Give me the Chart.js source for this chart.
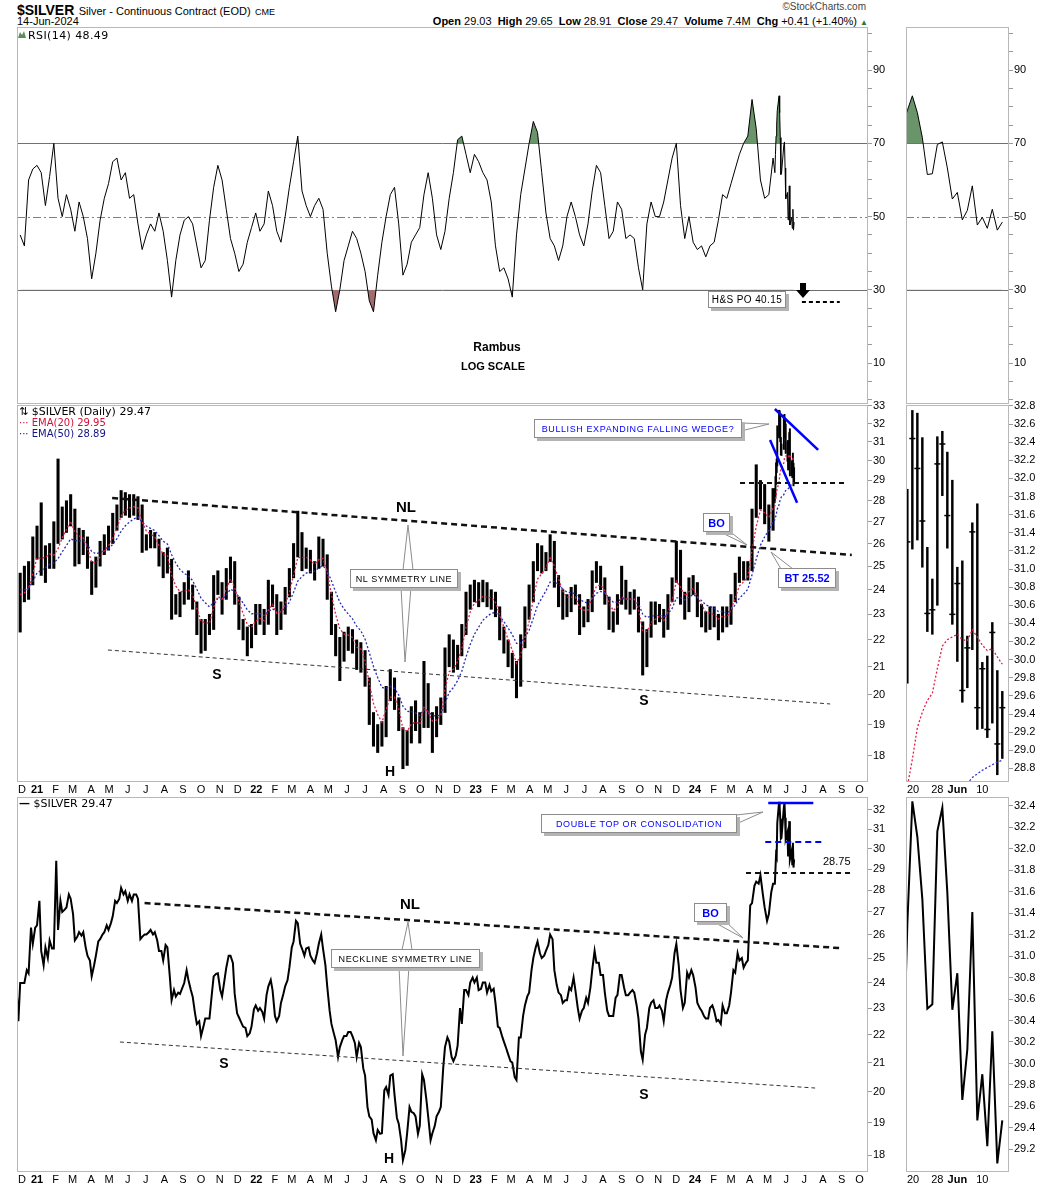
<!DOCTYPE html>
<html>
<head>
<meta charset="utf-8">
<title>$SILVER</title>
<script src="https://cdn.jsdelivr.net/npm/chart.js@4.4.1/dist/chart.umd.min.js"></script>
<style>
  body { margin: 0; background: #fff; }
  #page { position: relative; width: 1050px; height: 1188px; overflow: hidden; font-family: "Liberation Sans", Arial, sans-serif; color: #000; }
  canvas { position: absolute; }
  .t { position: absolute; white-space: nowrap; }
  .leg { position: absolute; white-space: nowrap; font: 10px "DejaVu Sans", sans-serif; }
  .box { position: absolute; background: #fff; border: 1px solid #8c8c8c; box-shadow: 3px 3px 0 #b4b4b4; box-sizing: border-box;
         display: flex; align-items: center; justify-content: center; white-space: nowrap; font: 9px "Liberation Sans", Arial, sans-serif; letter-spacing: 0.6px; }
  .blue { color: #0000ff; }
  .bo { font: bold 11px "Liberation Sans", Arial, sans-serif; letter-spacing: 0; }
  .big { position: absolute; font: bold 15px "Liberation Sans", Arial, sans-serif; transform: translate(-50%, -50%); }
  svg { position: absolute; left: 0; top: 0; }
</style>
</head>
<body>
<div id="page">
  <div class="t" style="left:17px;top:1px">
    <span style="font:bold 14px 'Liberation Sans',Arial">$SILVER</span>
    <span style="font:11px 'Liberation Sans',Arial">Silver - Continuous Contract (EOD)</span>
    <span style="font:9px 'Liberation Sans',Arial">CME</span>
  </div>
  <div class="t" style="left:17px;top:15px;font:11px 'Liberation Sans',Arial">14-Jun-2024</div>
  <div class="t" style="right:184px;top:1px;font:10px 'Liberation Sans',Arial;color:#444">&copy;StockCharts.com</div>
  <div class="t" style="right:182px;top:15px;font:11px 'Liberation Sans',Arial">
    <b>Open</b> 29.03 &nbsp;<b>High</b> 29.65 &nbsp;<b>Low</b> 28.91 &nbsp;<b>Close</b> 29.47 &nbsp;<b>Volume</b> 7.4M &nbsp;<b>Chg</b> +0.41 (+1.40%) <span style="color:#2d7a2d;font-size:8px">&#9650;</span>
  </div>

  <canvas id="rsi" width="895" height="393" style="left:10px;top:19px"></canvas>
  <canvas id="price" width="895" height="400" style="left:10px;top:397px"></canvas>
  <canvas id="line" width="895" height="399" style="left:10px;top:789px"></canvas>
  <canvas id="zrsi" width="147" height="393" style="left:903px;top:19px"></canvas>
  <canvas id="zprice" width="147" height="400" style="left:903px;top:397px"></canvas>
  <canvas id="zline" width="147" height="399" style="left:903px;top:789px"></canvas>

  <svg width="1050" height="1188">
    <g fill="#fff" stroke="#8c8c8c" stroke-width="1">
      <polygon points="741,423 769,424 741,431"/>
      <polygon points="716,530 728,530 747,545"/>
      <polygon points="781,569 793,569 771,552"/>
      <polygon points="403,570 413,570 408,525"/>
      <polygon points="401,587 411,587 405,662"/>
      <polygon points="736,815 763,812 736,824"/>
      <polygon points="712,921 725,921 743,938"/>
      <polygon points="402,950 412,950 408,922"/>
      <polygon points="399,966 409,966 403,1056"/>
    </g>
    <rect x="800" y="283" width="6" height="7" fill="#000"/>
    <polygon points="796,290 810,290 803,298" fill="#000"/>
    <polygon points="18,38 20,32 22,35 24,31 26,38" fill="#5d8f5d"/>
  </svg>

  <div class="leg" style="left:28px;top:29px;font-size:11px;letter-spacing:0.4px">RSI(14) 48.49</div>
  <div class="leg" style="left:19px;top:405px;font-size:11px">&#8645; $SILVER (Daily) 29.47</div>
  <div class="leg" style="left:19px;top:417px;color:#d0103a">&middot;&middot;&middot; EMA(20) 29.95</div>
  <div class="leg" style="left:19px;top:428px;color:#141482">&middot;&middot;&middot; EMA(50) 28.89</div>
  <div class="leg" style="left:19px;top:797px;font-size:11px"><b>&mdash;</b> $SILVER 29.47</div>

  <div class="box" style="left:708px;top:291px;width:78px;height:17px;font-size:10px;letter-spacing:0.4px">H&amp;S PO 40.15</div>
  <div class="t" style="left:497px;top:347px;transform:translate(-50%,-50%);font:bold 12px 'Liberation Sans',Arial">Rambus</div>
  <div class="t" style="left:493px;top:366px;transform:translate(-50%,-50%);font:bold 11px 'Liberation Sans',Arial">LOG SCALE</div>

  <div class="box blue" style="left:534px;top:419px;width:208px;height:19px">BULLISH EXPANDING FALLING WEDGE?</div>
  <div class="box blue bo" style="left:703px;top:513px;width:27px;height:19px">BO</div>
  <div class="box blue bo" style="left:778px;top:568px;width:58px;height:20px">BT 25.52</div>
  <div class="box" style="left:350px;top:569px;width:108px;height:19px">NL SYMMETRY LINE</div>
  <div class="big" style="left:406px;top:506px">NL</div>
  <div class="big" style="left:217px;top:674px;font-size:14px">S</div>
  <div class="big" style="left:390px;top:771px;font-size:14px">H</div>
  <div class="big" style="left:644px;top:700px;font-size:14px">S</div>

  <div class="box blue" style="left:541px;top:814px;width:196px;height:19px">DOUBLE TOP OR CONSOLIDATION</div>
  <div class="box blue bo" style="left:694px;top:903px;width:33px;height:19px">BO</div>
  <div class="box" style="left:331px;top:949px;width:149px;height:19px">NECKLINE SYMMETRY LINE</div>
  <div class="t" style="left:823px;top:855px;font:11px 'Liberation Sans',Arial">28.75</div>
  <div class="big" style="left:410px;top:903px">NL</div>
  <div class="big" style="left:224px;top:1063px;font-size:14px">S</div>
  <div class="big" style="left:389px;top:1158px;font-size:14px">H</div>
  <div class="big" style="left:644px;top:1094px;font-size:14px">S</div>
</div>

<script>
// weekly closes, Fridays from 2020-12-04 to 2024-05-10
const weekStart = '2020-12-04';
const weekClose = [
  23.98, 23.98, 24.37, 25.6, 26.4, 25.3, 25.45, 25.75, 25.4, 26.2,
  27.0, 27.2, 27.6, 25.75, 26.1, 26.1, 25.1, 24.25, 25.1, 25.8,
  26.1, 26.2, 26.8, 27.4, 28.1, 27.95, 27.8, 27.8, 27.6, 25.9,
  26.0, 26.2, 26.1, 25.3, 24.9, 25.45, 23.3, 23.45, 23.55, 23.98,
  24.1, 23.45, 22.4, 21.95, 22.6, 22.6, 24.25, 24.37, 23.45, 24.6,
  25.1, 23.55, 22.65, 22.3, 21.95, 22.3, 23.1, 23.0, 22.6, 23.85,
  23.7, 22.5, 23.2, 23.85, 24.6, 25.7, 26.5, 25.4, 25.4, 25.1,
  24.8, 25.6, 25.4, 23.85, 22.4, 21.8, 21.55, 21.95, 22.1, 21.95,
  21.2, 21.55, 20.55, 19.2, 18.67, 18.77, 18.67, 20.16, 20.55, 19.9,
  18.97, 17.85, 18.67, 19.35, 19.2, 18.9, 20.4, 19.2, 18.67, 19.2,
  19.5, 21.55, 21.75, 21.05, 21.6, 22.4, 23.7, 24.0, 24.0, 23.7,
  24.0, 23.6, 23.65, 23.2, 22.25, 21.75, 21.3, 21.0, 20.4, 21.9,
  23.1, 23.6, 25.0, 25.7, 25.0, 25.3, 26.0, 24.5, 23.6, 23.2,
  23.3, 23.7, 23.7, 22.6, 23.0, 23.2, 24.5, 24.8, 24.3, 23.6,
  22.7, 22.7, 23.5, 24.3, 23.5, 23.6, 23.6, 22.6, 21.1, 22.25,
  23.2, 23.0, 23.1, 22.5, 23.6, 24.2, 25.6, 23.7, 23.2, 24.2,
  24.3, 23.2, 22.9, 22.6, 23.0, 22.9, 22.55, 23.1, 22.8, 23.6,
  24.4, 24.9, 24.6, 24.9, 27.4, 28.4, 28.7, 27.2, 26.9, 28.3
];
// mid-week (Tuesday) closes, from 2020-12-08 to 2024-05-07
const midStart = '2020-12-08';
const midClose = [
  23.98, 24.5, 26.3, 26.3, 27.5, 24.7, 25.0, 25.4, 29.4, 27.5,
  27.1, 27.8, 26.9, 25.9, 25.95, 25.45, 24.9, 24.7, 25.7, 26.0,
  26.4, 26.5, 27.5, 27.6, 27.8, 27.5, 27.5, 27.8, 25.8, 26.0,
  26.1, 26.0, 25.75, 25.3, 25.55, 24.25, 23.7, 23.6, 23.8, 24.5,
  23.7, 22.8, 22.5, 22.3, 22.6, 23.55, 24.35, 23.7, 24.1, 25.1,
  24.8, 22.8, 22.45, 22.25, 22.05, 22.95, 22.9, 22.85, 23.5, 24.1,
  22.7, 22.7, 23.55, 24.1, 25.45, 26.6, 25.6, 25.1, 25.45, 24.9,
  25.2, 26.0, 24.7, 22.9, 22.05, 21.2, 21.8, 21.95, 22.1, 21.7,
  21.7, 20.8, 19.5, 19.1, 18.45, 18.65, 20.05, 19.9, 20.6, 19.15,
  18.45, 18.15, 19.5, 19.3, 18.65, 20.6, 19.75, 18.45, 18.9, 19.35,
  20.8, 21.9, 21.2, 21.25, 23.0, 23.7, 23.5, 24.2, 24.2, 23.75,
  24.0, 23.9, 23.75, 22.3, 21.95, 21.5, 21.05, 20.5, 21.9, 22.7,
  23.45, 24.5, 25.45, 25.2, 25.1, 25.55, 25.8, 23.9, 23.5, 23.3,
  23.8, 24.2, 23.0, 22.9, 23.4, 23.8, 25.3, 24.8, 24.3, 22.9,
  22.7, 23.4, 24.3, 23.8, 23.5, 23.7, 23.1, 21.4, 22.0, 23.0,
  23.3, 23.0, 22.9, 23.3, 23.9, 25.2, 24.7, 23.0, 24.4, 24.5,
  23.8, 23.0, 22.7, 22.6, 23.1, 22.5, 22.4, 22.8, 23.1, 24.5,
  25.2, 25.0, 24.8, 27.3, 28.2, 28.3, 27.8, 26.6, 27.9
];
const weekHigh = [
  24.7, 25.0, 25.2, 26.3, 26.8, 27.9, 25.9, 26.0, 27.0, 30.1,
  27.7, 28.0, 28.3, 27.6, 26.7, 26.6, 26.3, 25.2, 25.4, 26.1,
  26.4, 26.8, 27.4, 27.8, 28.5, 28.4, 28.3, 28.3, 28.2, 27.8,
  26.4, 26.6, 26.5, 26.2, 25.6, 25.8, 25.3, 23.8, 23.9, 24.3,
  24.8, 24.2, 23.5, 22.8, 22.8, 23.0, 24.6, 24.8, 24.3, 24.9,
  25.4, 25.2, 23.7, 22.8, 22.5, 22.6, 23.4, 23.4, 23.2, 24.4,
  24.2, 23.8, 23.5, 24.1, 24.9, 26.0, 27.5, 26.5, 25.8, 25.7,
  25.2, 26.3, 26.2, 25.5, 23.9, 22.6, 22.1, 22.3, 22.5, 22.4,
  22.0, 21.9, 21.6, 20.6, 19.4, 19.0, 19.1, 20.3, 20.9, 20.6,
  19.9, 18.9, 18.8, 19.6, 19.8, 19.4, 21.2, 20.4, 19.4, 19.6,
  19.9, 21.7, 22.2, 22.0, 21.8, 22.6, 23.9, 24.2, 24.4, 24.3,
  24.4, 24.3, 24.0, 23.9, 23.3, 22.5, 22.0, 21.5, 21.2, 22.2,
  23.3, 24.2, 25.2, 26.0, 25.9, 25.6, 26.4, 26.1, 24.6, 24.0,
  23.8, 24.1, 24.2, 23.8, 23.3, 23.6, 24.8, 25.2, 25.0, 24.5,
  23.7, 23.1, 23.8, 25.0, 24.4, 23.9, 24.0, 23.7, 22.7, 22.4,
  23.5, 23.5, 23.4, 23.2, 23.8, 24.5, 26.1, 25.7, 23.9, 24.5,
  24.6, 24.3, 23.4, 23.1, 23.3, 23.3, 23.0, 23.3, 23.3, 23.8,
  24.7, 25.4, 25.2, 25.2, 27.6, 29.8, 29.0, 28.8, 27.8, 28.6
];
const weekLow = [
  22.3, 23.5, 23.6, 24.2, 25.3, 24.6, 24.3, 24.9, 24.9, 26.0,
  26.2, 26.5, 26.8, 25.0, 25.1, 25.5, 24.9, 23.8, 24.1, 25.0,
  25.5, 25.7, 26.0, 26.6, 27.2, 27.3, 27.2, 27.3, 27.1, 25.6,
  25.7, 25.8, 25.8, 25.0, 24.5, 24.7, 22.8, 23.0, 22.9, 23.4,
  23.6, 23.2, 22.2, 21.5, 21.6, 22.2, 22.4, 23.8, 23.0, 23.6,
  24.3, 23.4, 22.4, 22.0, 21.4, 21.7, 22.2, 22.6, 22.2, 22.6,
  23.3, 22.2, 22.4, 23.0, 23.7, 24.5, 25.4, 24.8, 24.9, 24.7,
  24.4, 24.9, 25.0, 23.6, 22.2, 21.4, 20.5, 21.2, 21.6, 21.5,
  20.9, 20.8, 20.3, 19.0, 18.3, 18.1, 18.3, 18.6, 19.8, 19.5,
  18.8, 17.6, 17.7, 18.4, 18.8, 18.4, 18.9, 18.9, 18.1, 18.6,
  19.0, 19.4, 21.0, 20.8, 20.9, 21.4, 22.2, 23.2, 23.5, 23.3,
  23.5, 23.3, 23.2, 22.9, 22.0, 21.5, 21.0, 20.6, 19.9, 20.3,
  21.7, 22.8, 23.5, 24.8, 24.7, 24.8, 25.2, 24.1, 23.3, 22.8,
  22.9, 23.1, 23.4, 22.2, 22.5, 22.7, 23.1, 24.3, 24.0, 23.4,
  22.4, 22.3, 22.6, 23.4, 23.2, 23.0, 23.2, 22.3, 20.7, 21.0,
  22.1, 22.6, 22.7, 22.1, 22.4, 23.5, 24.3, 23.4, 22.8, 23.1,
  23.8, 22.9, 22.5, 22.3, 22.4, 22.5, 22.0, 22.3, 22.5, 22.6,
  23.5, 24.3, 24.4, 24.4, 24.8, 27.2, 27.6, 26.9, 26.1, 26.6
];
const weekRsi = [
  45, 42, 60, 63, 64, 62, 53, 61, 70, 55,
  50, 56, 52, 46, 54, 50, 44, 33, 40, 49,
  55, 59, 65, 66, 60, 62, 55, 56, 48, 41,
  45, 48, 46, 51, 46, 38, 28, 38, 45, 49,
  50, 48, 42, 36, 38, 49, 58, 64, 60, 52,
  44, 40, 35, 37, 43, 47, 51, 46, 48, 57,
  53, 46, 43, 50, 58, 65, 72, 57, 53, 50,
  53, 55, 52, 40, 31, 24, 30, 38, 42, 46,
  44, 40, 35, 27, 24, 34, 43, 50, 56, 58,
  48, 34, 37, 43, 45, 47, 56, 62, 55, 45,
  41, 46, 55, 62, 71, 72, 67, 62, 67, 65,
  62, 60, 54, 42, 35, 36, 33, 28, 45, 56,
  63, 70, 76, 73, 62, 51, 44, 42, 38, 42,
  50, 54, 50, 45, 42, 48, 57, 64, 62, 53,
  44, 46, 54, 52, 44, 45, 44, 36, 30, 48,
  54, 50, 50, 54, 60, 66, 70, 53, 44, 50,
  43, 41, 42, 39, 42, 43, 49, 56, 55, 59,
  63, 67, 70, 72, 82, 74, 60, 55, 56, 66
];
const weekEma20 = [
  23.8, 23.87, 24.07, 24.68, 25.37, 25.34, 25.38, 25.53, 25.48, 25.77,
  26.26, 26.64, 27.02, 26.51, 26.35, 26.25, 25.79, 25.17, 25.14, 25.41,
  25.68, 25.89, 26.25, 26.71, 27.27, 27.54, 27.64, 27.71, 27.66, 26.96,
  26.57, 26.42, 26.3, 25.9, 25.5, 25.48, 24.61, 24.15, 23.91, 23.94,
  24.0, 23.78, 23.23, 22.72, 22.67, 22.64, 23.28, 23.72, 23.61, 24.01,
  24.45, 24.09, 23.51, 23.03, 22.6, 22.48, 22.73, 22.84, 22.74, 23.18,
  23.39, 23.03, 23.1, 23.4, 23.88, 24.61, 25.37, 25.38, 25.39, 25.27,
  25.08, 25.29, 25.33, 24.74, 23.8, 23.0, 22.42, 22.23, 22.18, 22.09,
  21.73, 21.66, 21.22, 20.41, 19.71, 19.33, 19.07, 19.51, 19.92, 19.92,
  19.54, 18.86, 18.78, 19.01, 19.09, 19.01, 19.57, 19.42, 19.12, 19.15,
  19.29, 20.2, 20.82, 20.91, 21.19, 21.67, 22.48, 23.09, 23.45, 23.55,
  23.73, 23.68, 23.67, 23.48, 22.99, 22.49, 22.02, 21.61, 21.13, 21.44,
  22.1, 22.7, 23.62, 24.45, 24.67, 24.92, 25.35, 25.01, 24.45, 23.95,
  23.69, 23.69, 23.7, 23.26, 23.16, 23.17, 23.7, 24.14, 24.2, 23.96,
  23.46, 23.15, 23.29, 23.7, 23.62, 23.61, 23.61, 23.2, 22.36, 22.32,
  22.67, 22.8, 22.92, 22.75, 23.09, 23.54, 24.36, 24.1, 23.74, 23.92,
  24.07, 23.72, 23.39, 23.08, 23.05, 22.99, 22.81, 22.93, 22.88, 23.17,
  23.66, 24.16, 24.33, 24.56, 25.7, 26.78, 27.55, 27.41, 27.2, 27.64
];
const weekEma50 = [
  24.0, 24.0, 24.07, 24.34, 24.71, 24.82, 24.93, 25.08, 25.14, 25.33,
  25.63, 25.91, 26.21, 26.13, 26.12, 26.12, 25.94, 25.64, 25.54, 25.59,
  25.68, 25.77, 25.96, 26.22, 26.56, 26.81, 26.99, 27.13, 27.22, 26.98,
  26.8, 26.69, 26.59, 26.36, 26.1, 25.98, 25.5, 25.13, 24.85, 24.69,
  24.58, 24.38, 24.02, 23.65, 23.46, 23.3, 23.47, 23.63, 23.6, 23.78,
  24.02, 23.93, 23.7, 23.45, 23.18, 23.02, 23.03, 23.03, 22.95, 23.11,
  23.22, 23.09, 23.11, 23.24, 23.49, 23.89, 24.36, 24.55, 24.7, 24.77,
  24.78, 24.93, 25.01, 24.8, 24.37, 23.91, 23.48, 23.21, 23.01, 22.82,
  22.53, 22.35, 22.03, 21.52, 21.01, 20.61, 20.26, 20.24, 20.3, 20.23,
  20.0, 19.61, 19.44, 19.43, 19.39, 19.3, 19.5, 19.44, 19.3, 19.28,
  19.32, 19.72, 20.09, 20.26, 20.5, 20.84, 21.36, 21.83, 22.22, 22.49,
  22.76, 22.91, 23.04, 23.07, 22.92, 22.71, 22.46, 22.2, 21.87, 21.88,
  22.1, 22.37, 22.84, 23.36, 23.65, 23.95, 24.32, 24.35, 24.22, 24.03,
  23.9, 23.87, 23.84, 23.61, 23.5, 23.45, 23.64, 23.85, 23.93, 23.87,
  23.66, 23.49, 23.49, 23.64, 23.61, 23.61, 23.61, 23.43, 23.01, 22.87,
  22.93, 22.94, 22.97, 22.89, 23.02, 23.23, 23.66, 23.67, 23.58, 23.69,
  23.8, 23.69, 23.55, 23.38, 23.31, 23.24, 23.11, 23.11, 23.05, 23.15,
  23.38, 23.65, 23.82, 24.02, 24.63, 25.31, 25.92, 26.3, 26.6, 27.0
];
// closes just before the first weekly point
const extraDates = ['2020-11-27', '2020-12-01'];
const extraClose = [24.2, 22.5];

// daily bars for the last weeks (also the right-hand zoom panels)
const dailyDates = ['2024-05-13', '2024-05-14', '2024-05-15', '2024-05-16', '2024-05-17', '2024-05-20', '2024-05-21', '2024-05-22',
  '2024-05-23', '2024-05-24', '2024-05-28', '2024-05-29', '2024-05-30', '2024-05-31', '2024-06-03', '2024-06-04', '2024-06-05',
  '2024-06-06', '2024-06-07', '2024-06-10', '2024-06-11', '2024-06-12', '2024-06-13', '2024-06-14'];
const dailyHigh = [28.6, 29.2, 29.9, 30.1, 31.88, 32.75, 32.72, 32.45, 31.24, 30.89, 32.46, 32.52, 32.29, 31.98, 31.02, 31.09, 30.26, 31.51, 31.72, 29.97, 30.04, 30.41, 29.88, 29.65];
const dailyLow = [27.9, 28.2, 28.8, 29.4, 29.74, 31.22, 31.32, 31.02, 30.31, 30.28, 30.6, 31.81, 31.23, 30.39, 29.98, 29.53, 29.69, 30.11, 29.23, 29.24, 29.14, 29.3, 28.73, 28.91];
const dailyClose = [28.3, 29.0, 29.7, 29.6, 31.3, 32.44, 32.11, 31.53, 30.51, 30.55, 32.16, 32.38, 31.59, 30.5, 30.84, 29.66, 30.13, 31.41, 29.47, 29.9, 29.23, 30.3, 29.07, 29.47];
const dailyRsi = [62, 67, 72, 75, 79, 83, 78.4, 71.6, 61.5, 61.7, 69.7, 70.4, 63.3, 54.8, 56.6, 49.1, 51.7, 58.4, 47.7, 49.8, 46.8, 52.0, 46.3, 48.49];
const dailyEma20 = [27.75, 27.95, 28.2, 28.45, 28.6, 28.9, 29.25, 29.42, 29.55, 29.63, 29.9, 30.15, 30.22, 30.25, 30.28, 30.22, 30.21, 30.33, 30.25, 30.16, 30.1, 30.12, 30.03, 29.95];
const dailyEma50 = [27.1, 27.2, 27.3, 27.45, 27.6, 27.8, 27.95, 28.05, 28.12, 28.2, 28.3, 28.4, 28.45, 28.5, 28.54, 28.58, 28.63, 28.7, 28.74, 28.78, 28.81, 28.84, 28.87, 28.89];

// axis labels
const monthLabels = ['D',
  '21', 'F', 'M', 'A', 'M', 'J', 'J', 'A', 'S', 'O', 'N', 'D',
  '22', 'F', 'M', 'A', 'M', 'J', 'J', 'A', 'S', 'O', 'N', 'D',
  '23', 'F', 'M', 'A', 'M', 'J', 'J', 'A', 'S', 'O', 'N', 'D',
  '24', 'F', 'M', 'A', 'M', 'J', 'J', 'A', 'S', 'O'];
const rsiTicks = [0, 5, 10, 15, 20, 25, 30, 35, 40, 45, 50, 55, 60, 65, 70, 75, 80, 85, 90, 95, 100];
const rsiLabels = [10, 30, 50, 70, 90];
const priceTicks = [18, 19, 20, 21, 22, 23, 24, 25, 26, 27, 28, 29, 30, 31, 32, 33];
const lineTicks = [18, 19, 20, 21, 22, 23, 24, 25, 26, 27, 28, 29, 30, 31, 32];
const zoomPriceTicks = [28.8, 29.0, 29.2, 29.4, 29.6, 29.8, 30.0, 30.2, 30.4, 30.6, 30.8, 31.0, 31.2, 31.4, 31.6, 31.8, 32.0, 32.2, 32.4, 32.6, 32.8];
const zoomLineTicks = [29.2, 29.4, 29.6, 29.8, 30.0, 30.2, 30.4, 30.6, 30.8, 31.0, 31.2, 31.4, 31.6, 31.8, 32.0, 32.2, 32.4];
const zoomTickIdx = [5, 10, 14, 19];
const zoomTickText = ['20', '28', 'Jun', '10'];

const fam = '"Liberation Sans", Arial, sans-serif';
const GREEN = '#6a946a', BROWN = '#a06c6c';
const DAY0 = Date.UTC(2020, 11, 1);
const dayNum = s => { const p = s.split('-').map(Number); return (Date.UTC(p[0], p[1] - 1, p[2]) - DAY0) / 864e5; };

const weekX = weekClose.map((v, k) => dayNum(weekStart) + 7 * k);
const midX = midClose.map((v, k) => dayNum(midStart) + 7 * k);
const dayX = dailyDates.map(dayNum);
const dayIdx = dailyDates.map((d, i) => i);
const monthX = monthLabels.map((l, i) => (Date.UTC(2020, 11 + i, 1) - DAY0) / 864e5);

const pts = (xs, ys) => xs.map((x, i) => ({ x, y: ys[i] }));
const bars = (xs, lo, hi) => xs.map((x, i) => ({ x, y: [lo[i], hi[i]] }));

const closePts = [].concat(pts(weekX, weekClose), pts(midX, midClose), pts(dayX, dailyClose), pts(extraDates.map(dayNum), extraClose)).sort((a, b) => a.x - b.x);
const rsiPts = pts(weekX, weekRsi).concat(pts(dayX, dailyRsi));
const ema20Pts = pts(weekX, weekEma20).concat(pts(dayX, dailyEma20));
const ema50Pts = pts(weekX, weekEma50).concat(pts(dayX, dailyEma50));

// trend lines and levels, in chart units
const D = dayNum;
const rsiLevels = [
  { y1: 70, y2: 70, color: '#6e6e6e', width: 1 },
  { y1: 50, y2: 50, color: '#808080', width: 1, dash: [8, 3, 2, 3] },
  { y1: 30, y2: 30, color: '#6e6e6e', width: 1 }
];
const guideMap = {
  rsi: {
    under: rsiLevels,
    over: [{ x1: D('2024-06-27'), x2: D('2024-08-29'), y1: 26.7, y2: 26.7, color: '#000', width: 2, dash: [4, 3] }]
  },
  zrsi: { under: rsiLevels },
  price: {
    over: [
      { x1: D('2021-05-06'), y1: 28.13, x2: D('2024-09-18'), y2: 25.49, color: '#111', width: 2.5, dash: [6, 4] },
      { x1: D('2021-04-29'), y1: 21.62, x2: D('2024-08-13'), y2: 19.69, color: '#333', width: 1, dash: [4, 3] },
      { x1: D('2024-03-16'), y1: 28.88, x2: D('2024-09-06'), y2: 28.88, color: '#111', width: 2, dash: [5, 4] },
      { x1: D('2024-05-13'), y1: 32.83, x2: D('2024-07-24'), y2: 30.58, color: '#0000ff', width: 2.5 },
      { x1: D('2024-05-05'), y1: 31.11, x2: D('2024-06-19'), y2: 27.9, color: '#0000ff', width: 2.5 }
    ]
  },
  line: {
    over: [
      { x1: D('2021-06-29'), y1: 27.4, x2: D('2024-08-29'), y2: 25.42, color: '#111', width: 2.5, dash: [6, 4] },
      { x1: D('2021-05-19'), y1: 21.74, x2: D('2024-07-19'), y2: 20.13, color: '#333', width: 1, dash: [4, 3] },
      { x1: D('2024-03-26'), y1: 28.8, x2: D('2024-09-16'), y2: 28.8, color: '#111', width: 2, dash: [5, 4] },
      { x1: D('2024-05-02'), y1: 32.4, x2: D('2024-07-16'), y2: 32.4, color: '#0000ff', width: 2.5 },
      { x1: D('2024-04-27'), y1: 30.34, x2: D('2024-08-01'), y2: 30.34, color: '#0000ff', width: 2, dash: [6, 4] }
    ]
  }
};
// x-axis label rows drawn under the panels
const xLabelMap = {
  price: { at: monthX, text: monthLabels, bold: t => /\d/.test(t) },
  line: { at: monthX, text: monthLabels, bold: t => /\d/.test(t) },
  zprice: { at: zoomTickIdx, text: zoomTickText, bold: t => t === 'Jun' },
  zline: { at: zoomTickIdx, text: zoomTickText, bold: t => t === 'Jun' }
};

function drawSegs(c, segs) {
  if (!segs) return;
  const g = c.ctx, xs = c.scales.x, ys = c.scales.y, a = c.chartArea;
  g.save();
  segs.forEach(s => {
    g.beginPath();
    g.strokeStyle = s.color;
    g.lineWidth = s.width;
    g.setLineDash(s.dash || []);
    const x1 = s.x1 == null ? a.left : xs.getPixelForValue(s.x1);
    const x2 = s.x2 == null ? a.right : xs.getPixelForValue(s.x2);
    const y1 = Math.round(ys.getPixelForValue(s.y1)) + (s.y1 === s.y2 && s.width === 1 ? 0.5 : 0);
    const y2 = s.y1 === s.y2 ? y1 : ys.getPixelForValue(s.y2);
    g.moveTo(x1, y1);
    g.lineTo(x2, y2);
    g.stroke();
  });
  g.restore();
}

Chart.register({
  id: 'guides',
  beforeDatasetsDraw(c) { const m = guideMap[c.canvas.id]; if (m) drawSegs(c, m.under); },
  afterDatasetsDraw(c) { const m = guideMap[c.canvas.id]; if (m) drawSegs(c, m.over); }
}, {
  id: 'frame',
  afterDraw(c) {
    const a = c.chartArea, g = c.ctx;
    g.save();
    g.strokeStyle = '#b8b8b8';
    g.lineWidth = 1;
    g.strokeRect(Math.round(a.left) + 0.5, Math.round(a.top) + 0.5, Math.round(a.right - a.left) - 1, Math.round(a.bottom - a.top) - 1);
    const spec = xLabelMap[c.canvas.id];
    if (spec) {
      const xs = c.scales.x, y = a.bottom + 8;
      g.fillStyle = '#000';
      g.textAlign = 'center';
      g.textBaseline = 'middle';
      spec.at.forEach((v, i) => {
        const t = spec.text[i];
        g.font = (spec.bold(t) ? 'bold ' : '') + '11px ' + fam;
        const w = g.measureText(t).width;
        const px = Math.max(xs.getPixelForValue(v), a.left + w / 2 + 1);
        g.fillText(t, px, y);
      });
    }
    g.restore();
  }
});

const xMain = { type: 'linear', min: -2.3, max: 1414, offset: false, display: false };
const xZoom = { type: 'linear', min: 3.73, max: 24.34, offset: false, display: false };
function yAxis(type, min, max, ticks, label, width) {
  return {
    type, position: 'right', min, max,
    afterBuildTicks: s => { s.ticks = ticks.map(v => ({ value: v })); },
    afterFit: s => { s.width = width; },
    grid: { drawOnChartArea: false, drawTicks: true, tickLength: 4, color: '#9a9a9a' },
    border: { display: false },
    ticks: { autoSkip: false, padding: 1, color: '#000', font: { family: fam, size: 11 }, callback: label }
  };
}
function make(id, datasets, x, y, pad) {
  return new Chart(document.getElementById(id), {
    type: 'line',
    data: { datasets },
    options: {
      responsive: false, animation: false, events: [],
      layout: { autoPadding: false, padding: pad },
      plugins: { legend: { display: false }, tooltip: { enabled: false } },
      scales: { x, y }
    }
  });
}

const rsiLabel = v => rsiLabels.includes(v) ? String(v) : '';
const lineDs = (data, color, width, dash) => ({ data, borderColor: color, borderWidth: width, borderDash: dash || [], pointRadius: 0, tension: 0, fill: false, order: 0 });
const rsiDs = data => [
  { data, borderColor: '#000', borderWidth: 1, pointRadius: 0, tension: 0, fill: { target: { value: 70 }, above: GREEN, below: 'rgba(0,0,0,0)' } },
  { data, borderColor: 'rgba(0,0,0,0)', borderWidth: 0, pointRadius: 0, tension: 0, fill: { target: { value: 30 }, above: 'rgba(0,0,0,0)', below: BROWN }, order: 1 }
];

// RSI panels
make('rsi', rsiDs(rsiPts), xMain, yAxis('linear', -1.2, 101.8, rsiTicks, rsiLabel, 37), { left: 7, top: 8, right: 0, bottom: 8 });
make('zrsi', rsiDs(pts(dayIdx, dailyRsi)), xZoom, yAxis('linear', -1.2, 101.8, rsiTicks, rsiLabel, 41), { left: 3, top: 8, right: 0, bottom: 8 });

// price bars with EMAs
make('price', [
  lineDs(ema20Pts, '#e0204a', 1.3, [2, 2]),
  lineDs(ema50Pts, '#2a2ab8', 1.3, [2, 2]),
  { type: 'bar', data: bars(weekX, weekLow, weekHigh), backgroundColor: '#000', barThickness: 2.4, grouped: false, order: 2 },
  { type: 'bar', data: bars(dayX, dailyLow, dailyHigh), backgroundColor: '#000', barThickness: 1.3, grouped: false, order: 2 }
], xMain, yAxis('logarithmic', 17.2, 33.05, priceTicks, v => String(v), 37), { left: 7, top: 8, right: 0, bottom: 15 });

make('zprice', [
  lineDs(pts(dayIdx, dailyEma20), '#e0204a', 1.3, [2, 2]),
  lineDs(pts(dayIdx, dailyEma50), '#3030c8', 1.3, [2, 2]),
  { data: pts(dayIdx, dailyClose), showLine: false, pointStyle: 'line', pointRadius: 3, pointBorderWidth: 1.5, pointBorderColor: '#000', order: 1 },
  { type: 'bar', data: bars(dayIdx, dailyLow, dailyHigh), backgroundColor: '#000', barThickness: 1.8, grouped: false, order: 2 }
], xZoom, yAxis('linear', 28.65, 32.81, zoomPriceTicks, v => v.toFixed(1), 41), { left: 3, top: 8, right: 0, bottom: 15 });

// close line panels
make('line', [lineDs(closePts, '#000', 2)], xMain, yAxis('logarithmic', 17.5, 32.7, lineTicks, v => String(v), 37), { left: 7, top: 8, right: 0, bottom: 16 });
make('zline', [lineDs(pts(dayIdx, dailyClose), '#000', 2)], xZoom, yAxis('linear', 28.99, 32.48, zoomLineTicks, v => v.toFixed(1), 41), { left: 3, top: 8, right: 0, bottom: 16 });
</script>
</body>
</html>
